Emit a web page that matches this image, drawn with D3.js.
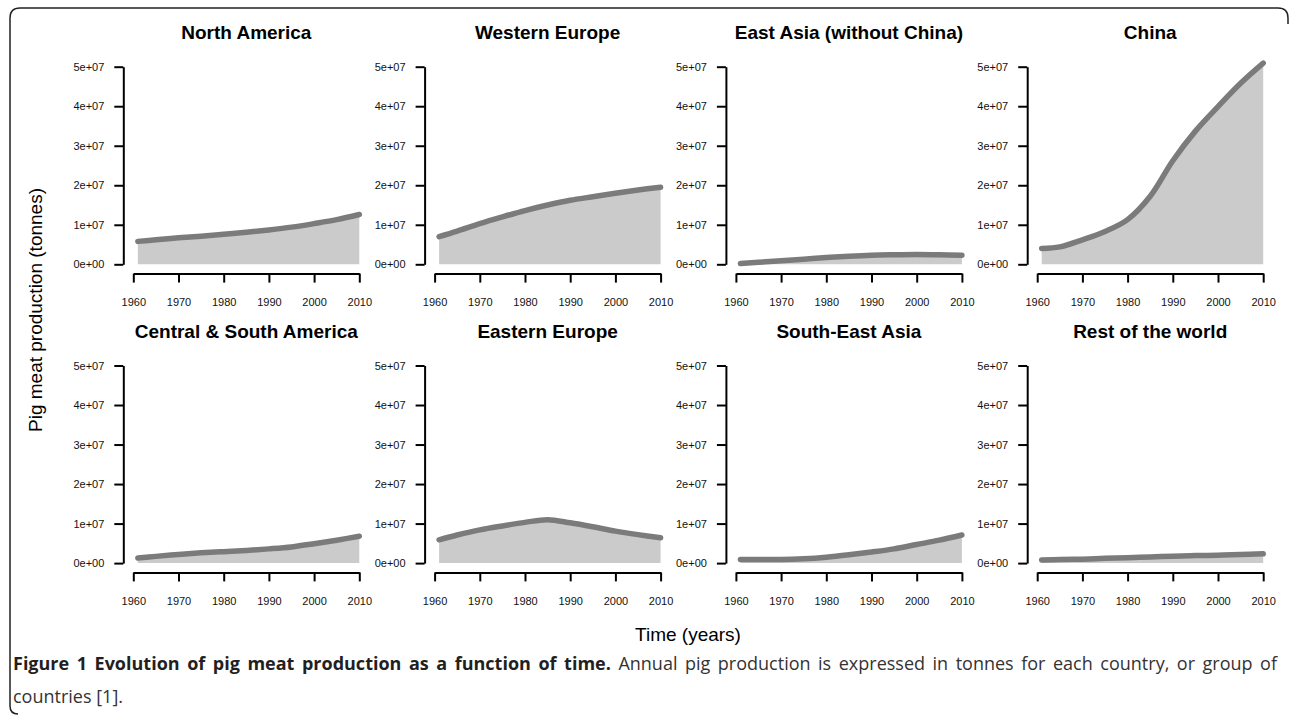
<!DOCTYPE html>
<html>
<head>
<meta charset="utf-8">
<script src="https://cdn.jsdelivr.net/npm/d3@7"></script>
<style>
  body { margin: 0; background: #fff; }
  svg { display: block; }
</style>
</head>
<body>
<div id="chart"></div>
<script>
// years
const years = [1961, 1965, 1970, 1975, 1980, 1985, 1990, 1995, 2000, 2005, 2010];

// pig meat production, million tonnes
const northAmerica = [5.8, 6.2, 6.7, 7.1, 7.6, 8.1, 8.7, 9.4, 10.3, 11.3, 12.6];
const westernEurope = [7.0, 8.4, 10.3, 12.0, 13.6, 15.0, 16.2, 17.1, 18.0, 18.8, 19.5];
const eastAsia = [0.2, 0.5, 0.9, 1.3, 1.7, 2.05, 2.3, 2.4, 2.45, 2.4, 2.3];
const china = [4.0, 4.4, 6.2, 8.3, 11.3, 17.2, 26.2, 33.7, 39.9, 45.8, 50.9];
const centralSouthAmerica = [1.3, 1.7, 2.2, 2.6, 2.9, 3.2, 3.6, 4.1, 4.9, 5.8, 6.8];
const easternEurope = [5.9, 7.1, 8.4, 9.4, 10.3, 11.0, 10.2, 9.2, 8.1, 7.2, 6.4];
const southEastAsia = [0.9, 0.9, 0.9, 1.1, 1.5, 2.1, 2.8, 3.6, 4.7, 5.8, 7.1];
const restOfWorld = [0.8, 0.9, 1.0, 1.2, 1.35, 1.55, 1.75, 1.9, 2.0, 2.15, 2.35];

const regionNames = [
  "North America", "Western Europe", "East Asia (without China)", "China",
  "Central & South America", "Eastern Europe", "South-East Asia", "Rest of the world"
];
const regionSeries = [
  northAmerica, westernEurope, eastAsia, china,
  centralSouthAmerica, easternEurope, southEastAsia, restOfWorld
];

const yTicks = [0, 1e7, 2e7, 3e7, 4e7, 5e7];
const yTickLabels = ["0e+00", "1e+07", "2e+07", "3e+07", "4e+07", "5e+07"];
const xTicks = [1960, 1970, 1980, 1990, 2000, 2010];

const W = 1290, H = 715;
const panelW = 226, panelH = 197.6;
const col0 = 133.3, colStep = 301.3;
const rowTop = [66.7, 365.5];
const chartFont = "'Liberation Sans', Arial, sans-serif";

const svg = d3.select("#chart").append("svg")
  .attr("width", W)
  .attr("height", H);

// frame round the figure
svg.append("path")
  .attr("d", "M1288,24 V18 Q1288,8 1278,8 H20 Q10,8 10,18 V706 Q10,714 18,714")
  .attr("fill", "none")
  .attr("stroke", "#222")
  .attr("stroke-width", 1.5);

const x = d3.scaleLinear().domain([1960, 2010]).range([0, panelW]);
const y = d3.scaleLinear().domain([0, 5e7]).range([panelH, 0]);

const area = d3.area()
  .x((d) => x(d.year))
  .y0(y(0))
  .y1((d) => y(d.value))
  .curve(d3.curveCatmullRom.alpha(0.5));

const line = d3.line()
  .x((d) => x(d.year))
  .y((d) => y(d.value))
  .curve(d3.curveCatmullRom.alpha(0.5));

regionNames.forEach((name, i) => {
  const row = Math.floor(i / 4), col = i % 4;
  const data = years.map((yr, j) => ({ year: yr, value: regionSeries[i][j] * 1e6 }));

  const g = svg.append("g")
    .attr("transform", `translate(${col0 + col * colStep},${rowTop[row]})`);

  g.append("path")
    .attr("d", area(data))
    .attr("fill", "#cbcbcb");

  g.append("path")
    .attr("d", line(data))
    .attr("fill", "none")
    .attr("stroke", "#7b7b7b")
    .attr("stroke-width", 5.5)
    .attr("stroke-linecap", "round")
    .attr("stroke-linejoin", "round");

  // y axis
  const yAxis = g.append("g")
    .attr("transform", "translate(-10,0)")
    .call(d3.axisLeft(y)
      .tickValues(yTicks)
      .tickFormat((d, k) => yTickLabels[k])
      .tickSize(9)
      .tickSizeOuter(0)
      .tickPadding(10));

  // x axis
  const xAxis = g.append("g")
    .attr("transform", `translate(0,${y(0) + 9.3})`)
    .call(d3.axisBottom(x)
      .tickValues(xTicks)
      .tickFormat(d3.format("d"))
      .tickSize(9)
      .tickSizeOuter(0)
      .tickPadding(16));

  [yAxis, xAxis].forEach((ax) => {
    ax.select(".domain").attr("stroke", "#000").attr("stroke-width", 2);
    ax.selectAll(".tick line").attr("stroke", "#000").attr("stroke-width", 2);
    ax.selectAll(".tick text")
      .attr("fill", "#111")
      .style("font-family", chartFont)
      .style("font-size", "11px");
  });

  g.append("text")
    .attr("x", panelW / 2)
    .attr("y", -34)
    .attr("text-anchor", "middle")
    .attr("dominant-baseline", "central")
    .style("font-family", chartFont)
    .style("font-size", "19px")
    .style("font-weight", "bold")
    .text(name);
});

// axis titles
svg.append("text")
  .attr("transform", "translate(35,310) rotate(-90)")
  .attr("text-anchor", "middle")
  .attr("dominant-baseline", "central")
  .style("font-family", chartFont)
  .style("font-size", "19px")
  .text("Pig meat production (tonnes)");

svg.append("text")
  .attr("x", 688)
  .attr("y", 634)
  .attr("text-anchor", "middle")
  .attr("dominant-baseline", "central")
  .style("font-family", chartFont)
  .style("font-size", "19px")
  .text("Time (years)");

// caption, first line justified to the frame width
const capFont = "'Open Sans', 'Noto Sans', sans-serif";
const cap1 = svg.append("text")
  .attr("x", 13)
  .attr("y", 670)
  .style("font-family", capFont)
  .style("font-size", "18px")
  .attr("fill", "#333");
cap1.append("tspan")
  .style("font-weight", "bold")
  .attr("fill", "#231f20")
  .text("Figure 1 Evolution of pig meat production as a function of time.");
cap1.append("tspan")
  .text(" Annual pig production is expressed in tonnes for each country, or group of");

const natural = cap1.node().getComputedTextLength();
const spaces = 24;
cap1.style("word-spacing", `${(1277 - 13 - natural) / spaces}px`);

svg.append("text")
  .attr("x", 13)
  .attr("y", 703)
  .style("font-family", capFont)
  .style("font-size", "18px")
  .attr("fill", "#333")
  .text("countries [1].");
</script>
</body>
</html>
